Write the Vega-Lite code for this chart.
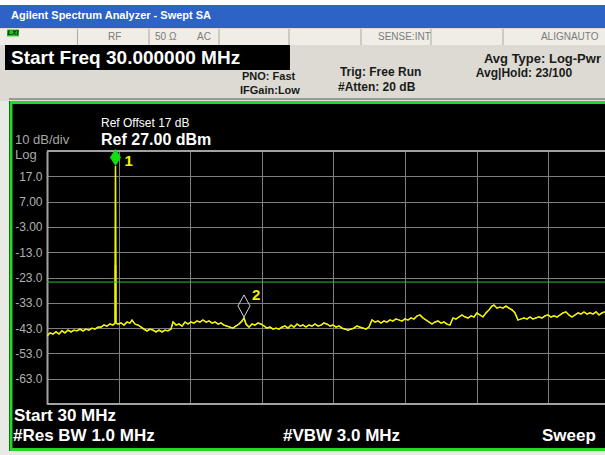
{
  "$schema": "https://vega.github.io/schema/vega-lite/v6.json",
  "width": 558,
  "height": 253,
  "autosize": {"type": "none"},
  "padding": {"left": 47, "top": 151, "right": 0, "bottom": 51},
  "background": "#000000",
  "config": {"view": {"stroke": null}, "font": "Liberation Sans", "text": {"font": "Liberation Sans"}},
  "data": {"values": [{}]},
  "datasets": {
    "trace": [
      {"f":30.0,"db":-46.1},{"f":34.1,"db":-44.9},{"f":38.1,"db":-45.3},{"f":42.2,"db":-44.5},{"f":46.3,"db":-45.3},{"f":50.3,"db":-44.1},{"f":54.4,"db":-44.9},{"f":58.4,"db":-43.8},{"f":62.5,"db":-44.5},{"f":66.6,"db":-43.8},{"f":70.6,"db":-44.1},{"f":74.7,"db":-43.4},{"f":78.8,"db":-44.1},{"f":82.8,"db":-43.4},{"f":86.9,"db":-43.8},{"f":91.0,"db":-43.0},{"f":95.0,"db":-43.4},{"f":99.1,"db":-42.6},{"f":103.2,"db":-42.6},{"f":107.2,"db":-41.8},{"f":111.3,"db":-42.2},{"f":115.3,"db":-41.4},{"f":119.4,"db":-41.8},{"f":122.3,"db":-41.0},{"f":122.8,"db":21.1},{"f":123.3,"db":-41.0},{"f":126.2,"db":-41.4},{"f":130.3,"db":-41.0},{"f":134.3,"db":-41.8},{"f":138.4,"db":-40.6},{"f":142.4,"db":-41.0},{"f":145.2,"db":-39.8},{"f":149.2,"db":-41.4},{"f":153.3,"db":-41.8},{"f":157.3,"db":-42.6},{"f":161.4,"db":-43.4},{"f":165.5,"db":-44.1},{"f":169.5,"db":-43.4},{"f":173.6,"db":-43.8},{"f":177.7,"db":-44.5},{"f":181.7,"db":-43.8},{"f":185.8,"db":-44.5},{"f":189.9,"db":-43.8},{"f":193.9,"db":-44.1},{"f":198.0,"db":-43.4},{"f":200.7,"db":-40.6},{"f":204.8,"db":-41.8},{"f":208.8,"db":-41.4},{"f":212.9,"db":-42.2},{"f":217.0,"db":-40.6},{"f":221.0,"db":-41.4},{"f":225.1,"db":-40.6},{"f":229.1,"db":-41.0},{"f":233.2,"db":-40.2},{"f":237.3,"db":-40.6},{"f":241.3,"db":-39.8},{"f":245.4,"db":-40.6},{"f":249.5,"db":-40.2},{"f":253.5,"db":-41.0},{"f":257.6,"db":-40.6},{"f":261.7,"db":-41.4},{"f":265.7,"db":-41.0},{"f":269.8,"db":-41.8},{"f":273.9,"db":-42.2},{"f":277.9,"db":-42.6},{"f":282.0,"db":-43.0},{"f":286.0,"db":-42.2},{"f":290.1,"db":-41.4},{"f":294.2,"db":-40.2},{"f":296.9,"db":-39.0},{"f":299.6,"db":-41.4},{"f":303.7,"db":-42.6},{"f":307.7,"db":-41.4},{"f":311.8,"db":-41.8},{"f":315.9,"db":-41.0},{"f":319.9,"db":-41.4},{"f":324.0,"db":-42.2},{"f":328.0,"db":-43.0},{"f":332.1,"db":-42.6},{"f":336.2,"db":-43.4},{"f":340.2,"db":-43.0},{"f":344.3,"db":-43.4},{"f":348.4,"db":-42.6},{"f":352.4,"db":-42.2},{"f":356.5,"db":-43.0},{"f":360.6,"db":-41.8},{"f":364.6,"db":-42.6},{"f":368.7,"db":-41.4},{"f":372.8,"db":-42.2},{"f":376.8,"db":-41.8},{"f":380.9,"db":-42.6},{"f":384.9,"db":-41.8},{"f":389.0,"db":-42.2},{"f":393.1,"db":-41.4},{"f":397.1,"db":-42.2},{"f":401.2,"db":-41.8},{"f":405.3,"db":-41.0},{"f":409.3,"db":-41.4},{"f":413.4,"db":-42.2},{"f":417.5,"db":-41.8},{"f":421.5,"db":-42.6},{"f":425.6,"db":-42.2},{"f":429.7,"db":-43.0},{"f":433.7,"db":-43.4},{"f":437.8,"db":-43.8},{"f":441.8,"db":-43.4},{"f":445.9,"db":-43.0},{"f":450.0,"db":-42.2},{"f":454.0,"db":-42.6},{"f":458.1,"db":-43.0},{"f":462.2,"db":-43.4},{"f":466.2,"db":-42.6},{"f":470.3,"db":-39.8},{"f":474.4,"db":-40.6},{"f":478.4,"db":-40.2},{"f":482.5,"db":-41.0},{"f":486.6,"db":-40.2},{"f":490.6,"db":-40.6},{"f":494.7,"db":-39.8},{"f":498.7,"db":-40.2},{"f":502.8,"db":-39.4},{"f":506.9,"db":-39.8},{"f":510.9,"db":-40.2},{"f":515.0,"db":-39.4},{"f":519.1,"db":-39.8},{"f":523.1,"db":-39.0},{"f":527.2,"db":-39.4},{"f":531.3,"db":-38.2},{"f":535.3,"db":-37.8},{"f":539.4,"db":-39.0},{"f":543.5,"db":-39.8},{"f":547.5,"db":-40.6},{"f":551.6,"db":-41.4},{"f":555.6,"db":-40.6},{"f":559.7,"db":-40.2},{"f":563.8,"db":-41.0},{"f":567.8,"db":-40.6},{"f":571.9,"db":-41.4},{"f":576.0,"db":-41.8},{"f":580.0,"db":-39.0},{"f":584.1,"db":-39.4},{"f":588.2,"db":-38.6},{"f":592.2,"db":-37.8},{"f":596.3,"db":-38.6},{"f":600.4,"db":-39.0},{"f":604.4,"db":-38.2},{"f":608.5,"db":-38.6},{"f":612.5,"db":-37.0},{"f":616.6,"db":-37.8},{"f":620.7,"db":-38.6},{"f":624.7,"db":-37.0},{"f":628.8,"db":-35.8},{"f":632.9,"db":-34.3},{"f":635.6,"db":-33.9},{"f":639.6,"db":-35.1},{"f":643.7,"db":-34.7},{"f":647.8,"db":-35.1},{"f":651.8,"db":-34.3},{"f":655.9,"db":-35.1},{"f":660.0,"db":-35.8},{"f":664.0,"db":-37.0},{"f":668.1,"db":-39.8},{"f":672.2,"db":-39.4},{"f":676.2,"db":-39.0},{"f":680.3,"db":-39.4},{"f":684.3,"db":-38.6},{"f":688.4,"db":-39.4},{"f":692.5,"db":-39.0},{"f":696.5,"db":-38.6},{"f":700.6,"db":-39.0},{"f":704.7,"db":-38.2},{"f":708.7,"db":-37.8},{"f":712.8,"db":-38.6},{"f":716.9,"db":-38.2},{"f":720.9,"db":-38.6},{"f":725.0,"db":-37.8},{"f":729.1,"db":-37.0},{"f":733.1,"db":-36.6},{"f":737.2,"db":-37.8},{"f":741.2,"db":-38.6},{"f":745.3,"db":-37.8},{"f":749.4,"db":-37.0},{"f":753.4,"db":-37.4},{"f":757.5,"db":-36.6},{"f":761.6,"db":-37.4},{"f":765.6,"db":-37.0},{"f":769.7,"db":-37.4},{"f":773.8,"db":-36.6},{"f":777.8,"db":-37.8},{"f":781.9,"db":-37.0},{"f":786.0,"db":-36.6}
    ]
  },
  "layer": [
    {
      "data": {"name": "trace"},
      "mark": {"type": "line", "color": "#f2f200", "strokeWidth": 1.3, "clip": true},
      "encoding": {
        "x": {"field": "f", "type": "quantitative", "scale": {"domain": [30, 786], "nice": false, "zero": false},
          "axis": {"values": [127, 224, 321, 418, 515, 612, 709], "tickCount": 20, "grid": true, "gridColor": "#7e7e7e", "gridWidth": 1, "labels": false, "ticks": false, "domain": false, "title": null}},
        "y": {"field": "db", "type": "quantitative", "scale": {"domain": [-73, 27], "nice": false, "zero": false},
          "axis": {"values": [27, 17, 7, -3, -13, -23, -33, -43, -53, -63, -73], "tickCount": 20, "grid": true, "gridColor": "#7e7e7e", "gridWidth": 1, "ticks": false, "domain": true, "domainColor": "#a2a2a2", "domainWidth": 2, "labelColor": "#b0b0b0", "labelFont": "Liberation Sans", "labelFontSize": 12, "labelPadding": 5, "labelOverlap": false, "labelFlush": false, "title": null,
            "labelExpr": "datum.value == 27 || datum.value == -73 ? '' : replace(format(datum.value, '.3r'), '−', '-')"}}
      }
    },
    {"mark": {"type": "rect", "color": "#e9e9e6"}, "encoding": {"x": {"datum": -60, "type": "quantitative"}, "x2": {"datum": -21.5}, "y": {"datum": 95, "type": "quantitative"}, "y2": {"datum": -100}}},
    {"mark": {"type": "rect", "color": "#e9e9e6"}, "encoding": {"x": {"datum": -60, "type": "quantitative"}, "x2": {"datum": 820}, "y": {"datum": -91.6, "type": "quantitative"}, "y2": {"datum": -100}}},
    {"mark": {"type": "rect", "color": "#dcdad2"}, "encoding": {"x": {"datum": -60, "type": "quantitative"}, "x2": {"datum": 820}, "y": {"datum": 95, "type": "quantitative"}, "y2": {"datum": 46.8}}},
    {"mark": {"type": "rect", "color": "#ffffff"}, "encoding": {"x": {"datum": -60, "type": "quantitative"}, "x2": {"datum": 820}, "y": {"datum": 95, "type": "quantitative"}, "y2": {"datum": 84.7}}},
    {"mark": {"type": "rect", "color": "#2d62c6"}, "encoding": {"x": {"datum": -60, "type": "quantitative"}, "x2": {"datum": 820}, "y": {"datum": 84.7, "type": "quantitative"}, "y2": {"datum": 75.6}}},
    {"mark": {"type": "rect", "color": "#efede6"}, "encoding": {"x": {"datum": -60, "type": "quantitative"}, "x2": {"datum": 820}, "y": {"datum": 75.2, "type": "quantitative"}, "y2": {"datum": 68.9}}},
    {"mark": {"type": "rule", "color": "#a8a8a0", "strokeWidth": 1}, "encoding": {"x": {"datum": 71.3, "type": "quantitative"}, "y": {"datum": 75.2, "type": "quantitative"}, "y2": {"datum": 68.9}}},
    {"mark": {"type": "rule", "color": "#a8a8a0", "strokeWidth": 1}, "encoding": {"x": {"datum": 168.2, "type": "quantitative"}, "y": {"datum": 75.2, "type": "quantitative"}, "y2": {"datum": 68.9}}},
    {"mark": {"type": "rule", "color": "#a8a8a0", "strokeWidth": 1}, "encoding": {"x": {"datum": 263.0, "type": "quantitative"}, "y": {"datum": 75.2, "type": "quantitative"}, "y2": {"datum": 68.9}}},
    {"mark": {"type": "rule", "color": "#a8a8a0", "strokeWidth": 1}, "encoding": {"x": {"datum": 357.9, "type": "quantitative"}, "y": {"datum": 75.2, "type": "quantitative"}, "y2": {"datum": 68.9}}},
    {"mark": {"type": "rule", "color": "#a8a8a0", "strokeWidth": 1}, "encoding": {"x": {"datum": 455.4, "type": "quantitative"}, "y": {"datum": 75.2, "type": "quantitative"}, "y2": {"datum": 68.9}}},
    {"mark": {"type": "rule", "color": "#a8a8a0", "strokeWidth": 1}, "encoding": {"x": {"datum": 550.2, "type": "quantitative"}, "y": {"datum": 75.2, "type": "quantitative"}, "y2": {"datum": 68.9}}},
    {"mark": {"type": "rule", "color": "#a8a8a0", "strokeWidth": 1}, "encoding": {"x": {"datum": 647.8, "type": "quantitative"}, "y": {"datum": 75.2, "type": "quantitative"}, "y2": {"datum": 68.9}}},
    {"mark": {"type": "rect", "color": "#22c022"}, "encoding": {"x": {"datum": -24.2, "type": "quantitative"}, "x2": {"datum": -7.9}, "y": {"datum": 75.0, "type": "quantitative"}, "y2": {"datum": 72.3}}},
    {"mark": {"type": "text", "text": "LXI", "align": "center", "baseline": "middle", "fontSize": 7, "fontWeight": "bold", "fontStyle": "italic", "color": "#102010"}, "encoding": {"x": {"datum": -16, "type": "quantitative"}, "y": {"datum": 73.7, "type": "quantitative"}}},
    {"mark": {"type": "rect", "color": "#000000"}, "encoding": {"x": {"datum": -26.9, "type": "quantitative"}, "x2": {"datum": 359.2}, "y": {"datum": 68.9, "type": "quantitative"}, "y2": {"datum": 59.0}}},
    {"mark": {"type": "rule", "color": "#9a9a94", "strokeWidth": 2}, "encoding": {"x": {"datum": -21.5, "type": "quantitative"}, "x2": {"datum": 820}, "y": {"datum": 47.6, "type": "quantitative"}}},
    {"mark": {"type": "rect", "filled": false, "color": "#27d627", "strokeWidth": 3}, "encoding": {"x": {"datum": -18.8, "type": "quantitative"}, "x2": {"datum": 806.3}, "y": {"datum": 46.2, "type": "quantitative"}, "y2": {"datum": -91.0}}},

    {"mark": {"type": "text", "text": "Agilent Spectrum Analyzer - Swept SA", "align": "left", "baseline": "middle", "fontSize": 11, "fontWeight": "bold", "color": "#ffffff"}, "encoding": {"x": {"datum": -18.8, "type": "quantitative"}, "y": {"datum": 80.4, "type": "quantitative"}}},
    {"mark": {"type": "text", "text": "RF", "align": "left", "baseline": "middle", "fontSize": 10, "color": "#7c7c7c"}, "encoding": {"x": {"datum": 112.6, "type": "quantitative"}, "y": {"datum": 72.1, "type": "quantitative"}}},
    {"mark": {"type": "text", "text": "50 Ω", "align": "left", "baseline": "middle", "fontSize": 10, "color": "#7c7c7c"}, "encoding": {"x": {"datum": 176.3, "type": "quantitative"}, "y": {"datum": 72.1, "type": "quantitative"}}},
    {"mark": {"type": "text", "text": "AC", "align": "left", "baseline": "middle", "fontSize": 10, "color": "#7c7c7c"}, "encoding": {"x": {"datum": 233.2, "type": "quantitative"}, "y": {"datum": 72.1, "type": "quantitative"}}},
    {"mark": {"type": "text", "text": "SENSE:INT", "align": "left", "baseline": "middle", "fontSize": 10, "color": "#7c7c7c"}, "encoding": {"x": {"datum": 478.4, "type": "quantitative"}, "y": {"datum": 72.1, "type": "quantitative"}}},
    {"mark": {"type": "text", "text": "ALIGNAUTO", "align": "left", "baseline": "middle", "fontSize": 10, "color": "#7c7c7c"}, "encoding": {"x": {"datum": 699.2, "type": "quantitative"}, "y": {"datum": 72.1, "type": "quantitative"}}},
    {"mark": {"type": "text", "text": "Start Freq 30.000000 MHz", "align": "left", "baseline": "middle", "fontSize": 19, "fontWeight": "bold", "color": "#ffffff"}, "encoding": {"x": {"datum": -18.8, "type": "quantitative"}, "y": {"datum": 63.8, "type": "quantitative"}}},
    {"mark": {"type": "text", "text": "PNO: Fast", "align": "left", "baseline": "middle", "fontSize": 11, "fontWeight": "bold", "color": "#1a1a1a"}, "encoding": {"x": {"datum": 294.2, "type": "quantitative"}, "y": {"datum": 56.2, "type": "quantitative"}}},
    {"mark": {"type": "text", "text": "IFGain:Low", "align": "left", "baseline": "middle", "fontSize": 11, "fontWeight": "bold", "color": "#1a1a1a"}, "encoding": {"x": {"datum": 291.5, "type": "quantitative"}, "y": {"datum": 50.7, "type": "quantitative"}}},
    {"mark": {"type": "text", "text": "Trig: Free Run", "align": "left", "baseline": "middle", "fontSize": 12, "fontWeight": "bold", "color": "#1a1a1a"}, "encoding": {"x": {"datum": 426.9, "type": "quantitative"}, "y": {"datum": 58.2, "type": "quantitative"}}},
    {"mark": {"type": "text", "text": "#Atten: 20 dB", "align": "left", "baseline": "middle", "fontSize": 12, "fontWeight": "bold", "color": "#1a1a1a"}, "encoding": {"x": {"datum": 424.2, "type": "quantitative"}, "y": {"datum": 52.3, "type": "quantitative"}}},
    {"mark": {"type": "text", "text": "Avg Type: Log-Pwr", "align": "left", "baseline": "middle", "fontSize": 13, "fontWeight": "bold", "color": "#1a1a1a"}, "encoding": {"x": {"datum": 622, "type": "quantitative"}, "y": {"datum": 63.4, "type": "quantitative"}}},
    {"mark": {"type": "text", "text": "Avg|Hold: 23/100", "align": "left", "baseline": "middle", "fontSize": 12, "fontWeight": "bold", "color": "#1a1a1a"}, "encoding": {"x": {"datum": 611, "type": "quantitative"}, "y": {"datum": 57.8, "type": "quantitative"}}},

    {"mark": {"type": "text", "text": "Ref Offset 17 dB", "align": "left", "baseline": "middle", "fontSize": 12, "color": "#ffffff"}, "encoding": {"x": {"datum": 103.2, "type": "quantitative"}, "y": {"datum": 38.1, "type": "quantitative"}}},
    {"mark": {"type": "text", "text": "Ref 27.00 dBm", "align": "left", "baseline": "middle", "fontSize": 16, "fontWeight": "bold", "color": "#ffffff"}, "encoding": {"x": {"datum": 103.2, "type": "quantitative"}, "y": {"datum": 31.3, "type": "quantitative"}}},
    {"mark": {"type": "text", "text": "10 dB/div", "align": "left", "baseline": "middle", "fontSize": 13, "color": "#a8a8a8"}, "encoding": {"x": {"datum": -13.4, "type": "quantitative"}, "y": {"datum": 31.3, "type": "quantitative"}}},
    {"mark": {"type": "text", "text": "Log", "align": "left", "baseline": "middle", "fontSize": 13, "color": "#a8a8a8"}, "encoding": {"x": {"datum": -13.4, "type": "quantitative"}, "y": {"datum": 25.6, "type": "quantitative"}}},
    {"mark": {"type": "text", "text": "Start 30 MHz", "align": "left", "baseline": "middle", "fontSize": 17, "fontWeight": "bold", "color": "#ffffff"}, "encoding": {"x": {"datum": -14.7, "type": "quantitative"}, "y": {"datum": -77.7, "type": "quantitative"}}},
    {"mark": {"type": "text", "text": "#Res BW 1.0 MHz", "align": "left", "baseline": "middle", "fontSize": 17, "fontWeight": "bold", "color": "#ffffff"}, "encoding": {"x": {"datum": -16.1, "type": "quantitative"}, "y": {"datum": -85.6, "type": "quantitative"}}},
    {"mark": {"type": "text", "text": "#VBW 3.0 MHz", "align": "left", "baseline": "middle", "fontSize": 17, "fontWeight": "bold", "color": "#ffffff"}, "encoding": {"x": {"datum": 349.7, "type": "quantitative"}, "y": {"datum": -85.6, "type": "quantitative"}}},
    {"mark": {"type": "text", "text": "Sweep", "align": "left", "baseline": "middle", "fontSize": 17, "fontWeight": "bold", "color": "#ffffff"}, "encoding": {"x": {"datum": 700.6, "type": "quantitative"}, "y": {"datum": -85.6, "type": "quantitative"}}},

    {"mark": {"type": "rule", "color": "#8f8f2a", "strokeWidth": 3}, "encoding": {"x": {"datum": 122.8, "type": "quantitative"}, "y": {"datum": -18.1, "type": "quantitative"}, "y2": {"datum": -41.4}}},
    {
      "data": {"name": "trace"},
      "mark": {"type": "line", "color": "#f2f200", "strokeWidth": 1.3, "clip": true},
      "encoding": {"x": {"field": "f", "type": "quantitative"}, "y": {"field": "db", "type": "quantitative"}}
    },
    {"mark": {"type": "rule", "color": "#1fc81f", "strokeWidth": 1}, "encoding": {"x": {"datum": 30, "type": "quantitative"}, "x2": {"datum": 786}, "y": {"datum": -24.8, "type": "quantitative"}}},
    {"mark": {"type": "rule", "color": "#a2a2a2", "strokeWidth": 2}, "encoding": {"x": {"datum": 30, "type": "quantitative"}, "x2": {"datum": 786}, "y": {"datum": 27, "type": "quantitative"}}},
    {"mark": {"type": "rule", "color": "#a2a2a2", "strokeWidth": 2}, "encoding": {"x": {"datum": 30, "type": "quantitative"}, "x2": {"datum": 786}, "y": {"datum": -73, "type": "quantitative"}}},
    {"mark": {"type": "point", "shape": "M0,-2L0.65,-1L0,0L-0.65,-1Z", "size": 289, "filled": true, "color": "#10e010", "opacity": 1}, "encoding": {"x": {"datum": 122.8, "type": "quantitative"}, "y": {"datum": 21.1, "type": "quantitative"}}},
    {"mark": {"type": "text", "text": "1", "align": "left", "baseline": "middle", "dx": 9, "dy": -5, "fontSize": 15, "fontWeight": "bold", "color": "#f2f200"}, "encoding": {"x": {"datum": 122.8, "type": "quantitative"}, "y": {"datum": 21.1, "type": "quantitative"}}},
    {"mark": {"type": "point", "shape": "M0,-2L0.55,-1L0,0L-0.55,-1Z", "size": 484, "filled": false, "color": "#d4d4d4", "strokeWidth": 1, "opacity": 1}, "encoding": {"x": {"datum": 296.9, "type": "quantitative"}, "y": {"datum": -38.6, "type": "quantitative"}}},
    {"mark": {"type": "text", "text": "2", "align": "left", "baseline": "middle", "dx": 8, "dy": -22, "fontSize": 15, "fontWeight": "bold", "color": "#f2f200"}, "encoding": {"x": {"datum": 296.9, "type": "quantitative"}, "y": {"datum": -38.6, "type": "quantitative"}}}
  ]
}
